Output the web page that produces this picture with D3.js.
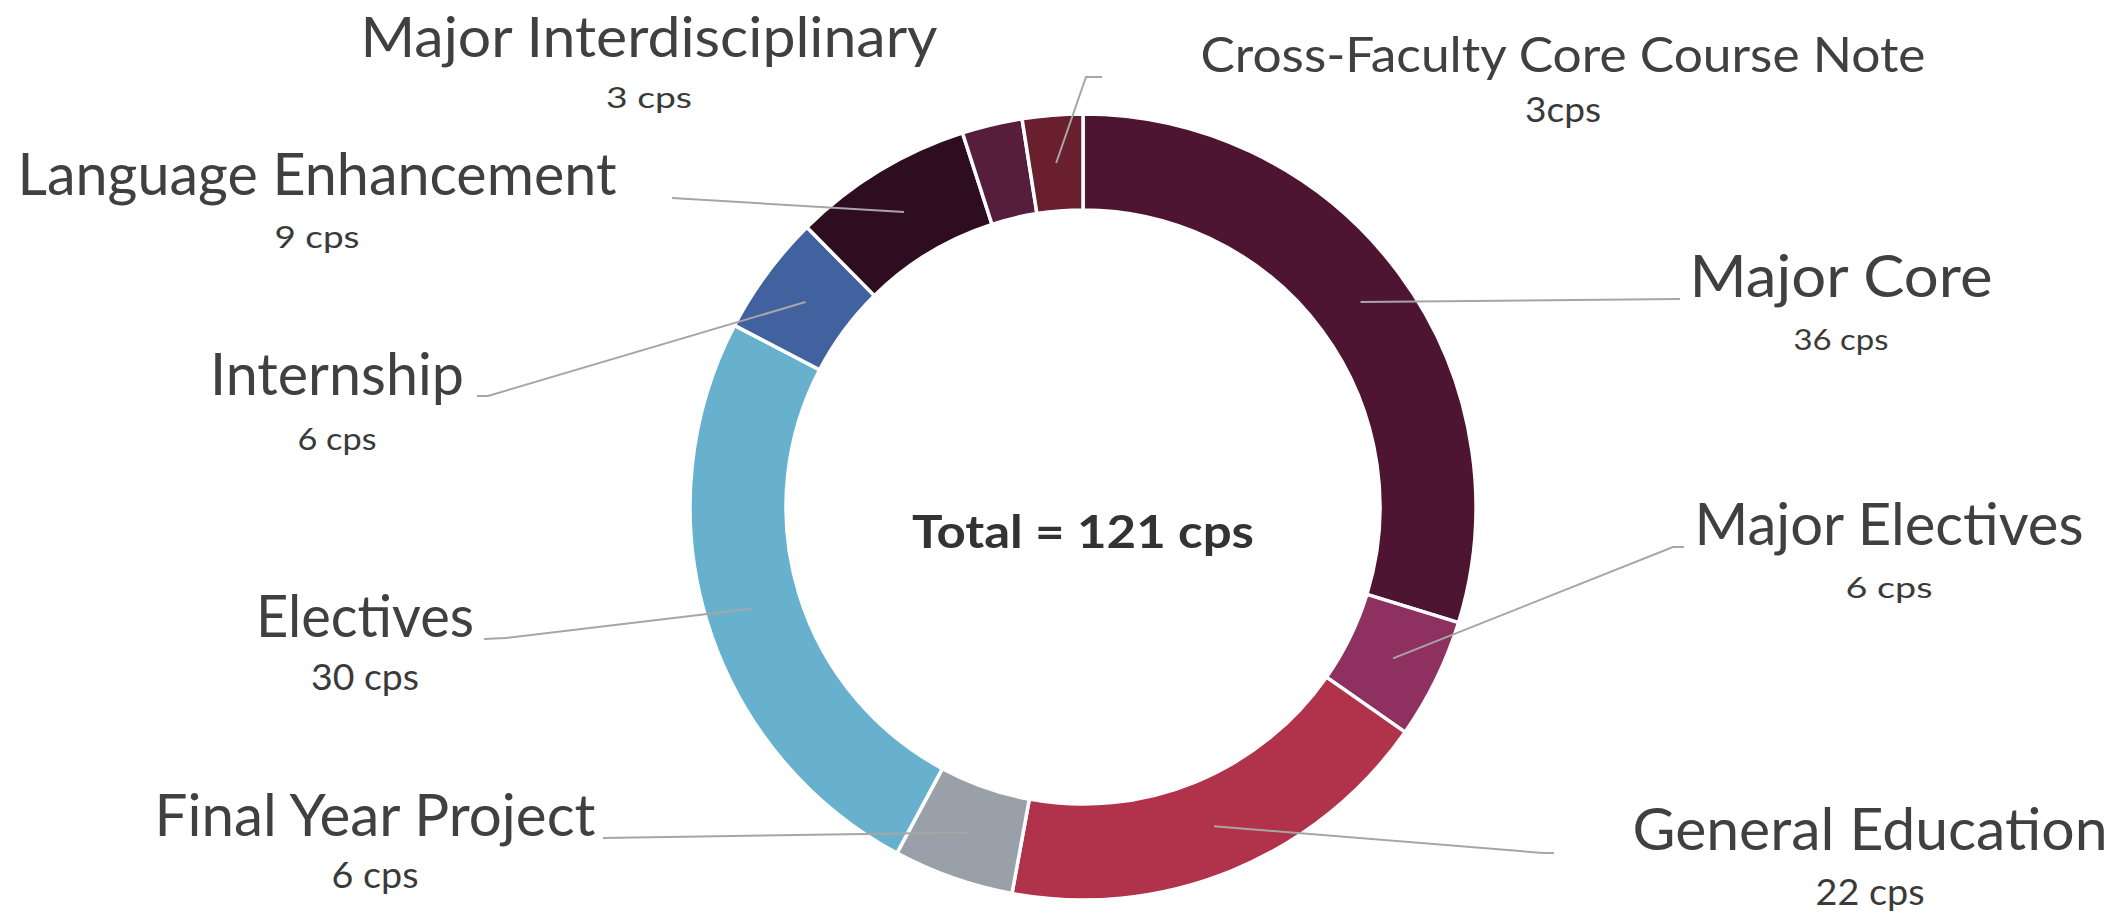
<!DOCTYPE html>
<html>
<head>
<meta charset="utf-8">
<script src="https://cdn.jsdelivr.net/npm/d3@7"></script>
<style>
  html, body { margin: 0; padding: 0; background: #fff; }
  svg { display: block; }
</style>
</head>
<body>
<div id="chart"></div>
<script>
// Datos
const categories = [
  "Major Core",
  "Major Electives",
  "General Education",
  "Final Year Project",
  "Electives",
  "Internship",
  "Language Enhancement",
  "Major Interdisciplinary",
  "Cross-Faculty Core Course Note"
];
const credits = [36, 6, 22, 6, 30, 6, 9, 3, 3];
const valueLabels = ["36 cps", "6 cps", "22 cps", "6 cps", "30 cps", "6 cps", "9 cps", "3 cps", "3cps"];
const totalLabel = "Total = 121 cps";

const colors = ["#4e1533", "#8e3060", "#b0324b", "#99a0a9", "#67b1cf", "#41629e", "#2e0d20", "#561d3c", "#6a1f2f"];

// Posición de etiquetas (cx, línea base, ancho) y puntos de las líneas guía
const labelLayout = [
  { x: 1841, y: 297, w: 303, fs: 58, vy: 350, vw: 95, vfs: 28, line: [[1680, 299]] },
  { x: 1889, y: 545, w: 389, fs: 58, vy: 598, vw: 87, vfs: 28, line: [[1673, 547], [1684, 547]] },
  { x: 1870, y: 850, w: 475, fs: 58, vy: 905, vw: 109, vfs: 37, line: [[1543, 853], [1554, 853]] },
  { x: 375, y: 836, w: 441, fs: 58, vy: 888, vw: 87, vfs: 37, line: [[603, 838]] },
  { x: 365, y: 637, w: 218, fs: 58, vy: 690, vw: 108, vfs: 37, line: [[505, 638], [484, 639]] },
  { x: 337, y: 395, w: 254, fs: 58, vy: 450, vw: 79, vfs: 30, line: [[488, 396], [477, 396]] },
  { x: 317, y: 195, w: 599, fs: 58, vy: 248, vw: 85, vfs: 30, line: [[672, 198]] },
  { x: 649, y: 57, w: 577, fs: 57, vy: 108, vw: 86, vfs: 28, line: [] },
  { x: 1563, y: 72, w: 725, fs: 49, vy: 122, vw: 76, vfs: 34, line: [[1086, 77], [1102, 77]] }
];

const W = 2128, H = 915;
const cx = 1083, cy = 507;
const outerR = 393, innerR = 297;
const textColor = "#404040";
const fontFamily = "Lato, 'Open Sans', sans-serif";

const svg = d3.select("#chart")
  .append("svg")
  .attr("width", W)
  .attr("height", H);

const g = svg.append("g")
  .attr("transform", `translate(${cx},${cy})`);

const pie = d3.pie().sort(null).value(d => d);
const arc = d3.arc().innerRadius(innerR).outerRadius(outerR);
const arcs = pie(credits);

// Sectores
g.selectAll("path.slice")
  .data(arcs)
  .enter()
  .append("path")
  .attr("class", "slice")
  .attr("d", arc)
  .attr("fill", (d, i) => colors[i])
  .attr("stroke", "#fff")
  .attr("stroke-width", 3.5)
  .attr("stroke-linejoin", "miter");

// Líneas guía
const line = d3.line();
arcs.forEach((d, i) => {
  const pts = labelLayout[i].line;
  if (!pts.length) return;
  const c = arc.centroid(d);
  const start = [cx + c[0], cy + c[1]];
  svg.append("path")
    .attr("d", line([start, ...pts]))
    .attr("fill", "none")
    .attr("stroke", "#a6a6a6")
    .attr("stroke-width", 2);
});

// Etiquetas
categories.forEach((name, i) => {
  const L = labelLayout[i];
  svg.append("text")
    .attr("x", L.x)
    .attr("y", L.y)
    .attr("text-anchor", "middle")
    .attr("textLength", L.w)
    .attr("lengthAdjust", "spacingAndGlyphs")
    .style("font-family", fontFamily)
    .style("font-size", L.fs + "px")
    .style("fill", textColor)
    .text(name);

  svg.append("text")
    .attr("x", L.x)
    .attr("y", L.vy)
    .attr("text-anchor", "middle")
    .attr("textLength", L.vw)
    .attr("lengthAdjust", "spacingAndGlyphs")
    .style("font-family", fontFamily)
    .style("font-size", L.vfs + "px")
    .style("fill", "#3a3a3a")
    .text(valueLabels[i]);
});

// Total en el centro
svg.append("text")
  .attr("x", cx)
  .attr("y", 548)
  .attr("text-anchor", "middle")
  .attr("textLength", 342)
  .attr("lengthAdjust", "spacingAndGlyphs")
  .style("font-family", fontFamily)
  .style("font-weight", "bold")
  .style("font-size", "46px")
  .style("fill", "#333")
  .text(totalLabel);
</script>
</body>
</html>
